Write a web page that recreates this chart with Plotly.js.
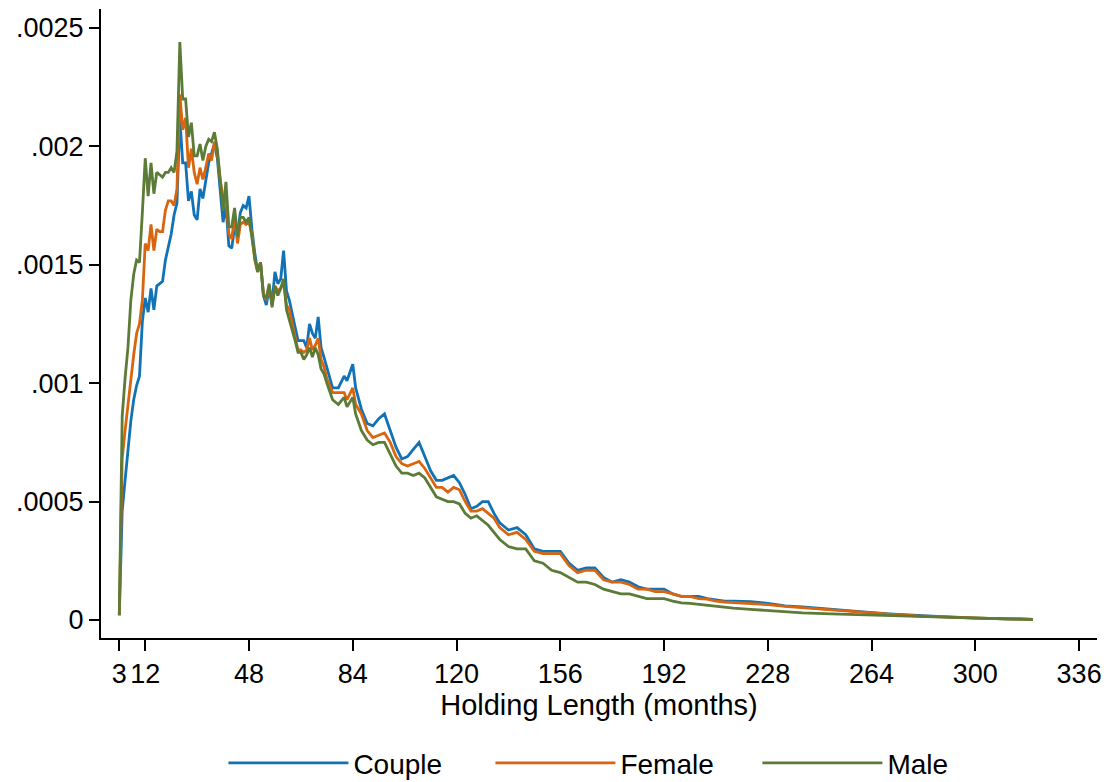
<!DOCTYPE html>
<html>
<head>
<meta charset="utf-8">
<script src="https://cdn.plot.ly/plotly-3.0.1.min.js"></script>
<style>
html,body{margin:0;padding:0;background:#fff;}
#chart{width:1111px;height:782px;}
</style>
</head>
<body>
<div id="chart"></div>
<script>
// Holding length in months at which each density was read
const months = [
  3,4,5,6,7,8,9,10,11,12,13,14,15,16,17,18,19,20,21,22,23,24,25,26,27,28,29,30,
  31,32,33,34,35,36,37,38,39,40,41,42,43,44,45,46,47,48,49,50,51,52,53,54,55,56,
  57,58,59,60,61,62,63,64,65,66,67,68,69,70,71,72,73,74,75,
  77,79,81,82,84,85,87,89,91,93,95,97,99,101,103,105,107,109,111,113,115,117,119,
  121,123,125,127,129,131,133,135,
  138,141,144,147,150,153,156,159,162,165,168,171,174,177,180,183,186,189,192,195,
  198,201,204,207,210,213,216,
  222,228,234,240,250,260,270,280,290,300,310,320
];

const couple = [
  .00002,.00046,.00059,.00072,.00084,.00093,.00099,.00103,.00126,.00136,.00130,.00140,.00131,.00141,
  .00142,.00143,.00152,.00158,.00163,.00171,.00176,.00212,.00193,.00193,.00177,.00181,.00171,.00169,
  .00182,.00178,.00186,.00193,.00197,.00201,.00195,.00183,.00168,.00175,.00158,.00157,.00166,.00163,
  .00172,.00175,.00174,.00179,.00165,.00155,.00147,.00151,.00137,.00133,.00140,.00134,
  .00147,.00142,.00144,.00156,.00139,.00135,.00129,.00123,.00118,.00118,.00118,.00115,.00125,.00121,.00119,.00128,.00115,.00111,.00107,
  .00098,.00098,.00103,.00101,.00108,.00098,.00089,.00083,.00082,.00085,.00087,.00080,.00073,.00068,.00069,.00072,.00075,.00069,.00063,.00059,.00059,.00060,.00061,
  .00058,.00053,.00047,.00048,.00050,.00050,.00045,.00041,
  .00038,.00039,.00036,.00030,.00029,.00029,.00029,.00024,.00021,.00022,.00022,.00018,.00016,.00017,.00016,.00014,.00013,.00013,.00013,.00011,
  .00010,.00010,.00010,.00009,.000085,.00008,.00008,
  .000078,.00007,.00006,.000055,.000044,.000035,.000026,.000018,.000013,.000008,.000005,.000003
];

const female = [
  .00002,.00068,.00080,.00091,.00101,.00112,.00121,.00125,.00135,.00159,.00156,.00167,.00156,.00165,
  .00164,.00164,.00173,.00177,.00177,.00175,.00182,.00222,.00207,.00212,.00191,.00199,.00189,.00184,
  .00191,.00186,.00191,.00197,.00194,.00202,.00197,.00186,.00178,.00178,.00163,.00161,.00170,.00159,
  .00167,.00168,.00167,.00168,.00163,.00152,.00147,.00151,.00138,.00135,.00141,.00133,
  .00141,.00139,.00140,.00143,.00133,.00131,.00125,.00119,.00114,.00114,.00113,.00114,.00119,.00114,.00116,.00119,.00110,.00107,.00102,
  .00096,.00096,.00096,.00093,.00098,.00091,.00087,.00080,.00077,.00078,.00079,.00075,.00069,.00066,.00065,.00066,.00067,.00064,.00060,.00056,.00056,.00054,.00056,
  .00055,.00050,.00046,.00046,.00047,.00045,.00043,.00039,
  .00036,.00037,.00034,.00029,.00028,.00028,.00028,.00023,.00020,.00021,.00021,.00017,.00016,.00016,.00015,.00013,.00013,.00012,.00012,.00011,
  .00010,.00010,.00009,.000088,.00008,.000076,.000074,
  .000072,.000065,.000058,.000052,.000042,.000033,.000025,.000017,.000012,.000008,.000005,.000003
];

const male = [
  .00002,.00086,.00102,.00115,.00135,.00146,.00152,.00151,.00172,.00195,.00179,.00193,.00180,.00189,
  .00188,.00187,.00189,.00189,.00191,.00189,.00198,.00244,.00220,.00220,.00204,.00210,.00196,.00196,
  .00201,.00194,.00200,.00203,.00202,.00206,.00199,.00185,.00173,.00185,.00166,.00166,.00174,.00162,
  .00170,.00170,.00168,.00170,.00161,.00153,.00147,.00151,.00137,.00136,.00142,.00132,
  .00141,.00137,.00140,.00144,.00131,.00127,.00123,.00118,.00113,.00113,.00110,.00112,.00115,.00111,.00115,.00112,.00106,.00104,.00100,
  .00093,.00091,.00094,.00090,.00094,.00087,.00080,.00076,.00074,.00075,.00075,.00070,.00065,.00062,.00062,.00061,.00062,.00060,.00056,.00052,.00051,.00050,.00050,
  .00049,.00045,.00043,.00044,.00042,.00040,.00037,.00034,
  .00031,.00030,.00030,.00025,.00024,.00021,.00020,.00018,.00016,.00016,.00015,.00013,.00012,.00011,.00011,.00010,.00009,.00009,.00009,.00008,
  .000072,.00007,.000066,.00006,.000056,.000053,.00005,
  .000045,.000040,.000035,.000030,.000026,.000022,.000018,.000014,.000011,.000008,.000005,.000003
];

const seriesNames = ["Couple", "Female", "Male"];
const seriesColors = ["#1172b6", "#d9650f", "#5b7b36"];

const xTickVals = [3, 12, 48, 84, 120, 156, 192, 228, 264, 300, 336];
const xTickText = ["3", "12", "48", "84", "120", "156", "192", "228", "264", "300", "336"];
const yTickVals = [0, 0.0005, 0.001, 0.0015, 0.002, 0.0025];
const yTickText = ["0", ".0005", ".001", ".0015", ".002", ".0025"];

const values = [couple, female, male];
const traces = values.map((v, i) => ({
  x: months,
  y: v,
  type: "scatter",
  mode: "lines",
  name: seriesNames[i],
  line: {color: seriesColors[i], width: 2.8}
}));

const fontFam = "Liberation Sans, Arial, Helvetica, sans-serif";
const layout = {
  width: 1111,
  height: 782,
  paper_bgcolor: "#fff",
  plot_bgcolor: "#fff",
  margin: {l: 101, r: 14, t: 9, b: 144, autoexpand: false},
  font: {family: fontFam, color: "#000", size: 28},
  showlegend: true,
  legend: {
    orientation: "h",
    x: 0.525, xanchor: "center",
    y: -0.199, yanchor: "middle",
    font: {size: 28, family: fontFam, color: "#000"},
    itemwidth: 120,
    entrywidth: 132,
    entrywidthmode: "pixels",
    traceorder: "normal"
  },
  xaxis: {
    range: [-3.35, 342.2],
    tickmode: "array",
    tickvals: xTickVals,
    ticktext: xTickText,
    ticks: "outside",
    ticklen: 11,
    tickwidth: 2,
    tickcolor: "#000",
    showline: true,
    linecolor: "#000",
    linewidth: 2,
    showgrid: false,
    zeroline: false,
    automargin: false,
    tickfont: {size: 27, family: fontFam, color: "#000"},
    title: {text: "Holding Length (months)", font: {size: 29, family: fontFam, color: "#000"}, standoff: 0}
  },
  yaxis: {
    range: [-0.000076, 0.00258],
    tickmode: "array",
    tickvals: yTickVals,
    ticktext: yTickText,
    ticks: "outside",
    ticklen: 10,
    tickwidth: 2,
    tickcolor: "#000",
    showline: true,
    linecolor: "#000",
    linewidth: 2,
    showgrid: false,
    zeroline: false,
    automargin: false,
    tickfont: {size: 27, family: fontFam, color: "#000"}
  }
};

Plotly.newPlot("chart", traces, layout, {displayModeBar: false, staticPlot: true});
</script>
</body>
</html>
